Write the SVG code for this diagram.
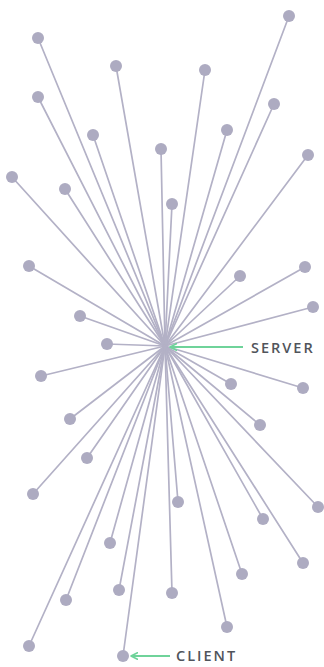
<svg xmlns="http://www.w3.org/2000/svg" width="324" height="667" viewBox="0 0 324 667">
  <style>
    .spoke { stroke: #b3b1c6; stroke-width: 1.7; stroke-linecap: round; fill: none; }
    .dot { fill: #adabc1; }
    .pointer { stroke: #6fd39a; stroke-width: 1.8; fill: none; }
    .label { font-family: "Open Sans", "Liberation Sans", sans-serif; font-size: 14.5px; font-weight: 600; fill: #50545b; letter-spacing: 2px; }
  </style>
  <defs>
    <marker id="head" viewBox="0 0 10 10" refX="9" refY="5" markerWidth="4.5" markerHeight="4.5" orient="auto" markerUnits="strokeWidth">
      <path d="M1,1 L9,5 L1,9" fill="none" stroke="#6fd39a" stroke-width="2" stroke-linecap="round" stroke-linejoin="round"/>
    </marker>
  </defs>
  <rect width="324" height="667" fill="#ffffff"/>

  <!-- spokes from the server hub to every client -->
  <g id="connectors">
    <line class="spoke" x1="165" y1="346" x2="289" y2="16"/>
    <line class="spoke" x1="165" y1="346" x2="38" y2="38"/>
    <line class="spoke" x1="165" y1="346" x2="116" y2="66"/>
    <line class="spoke" x1="165" y1="346" x2="205" y2="70"/>
    <line class="spoke" x1="165" y1="346" x2="38" y2="97"/>
    <line class="spoke" x1="165" y1="346" x2="274" y2="104"/>
    <line class="spoke" x1="165" y1="346" x2="93" y2="135"/>
    <line class="spoke" x1="165" y1="346" x2="227" y2="130"/>
    <line class="spoke" x1="165" y1="346" x2="161" y2="149"/>
    <line class="spoke" x1="165" y1="346" x2="308" y2="155"/>
    <line class="spoke" x1="165" y1="346" x2="12" y2="177"/>
    <line class="spoke" x1="165" y1="346" x2="65" y2="189"/>
    <line class="spoke" x1="165" y1="346" x2="172" y2="204"/>
    <line class="spoke" x1="165" y1="346" x2="29" y2="266"/>
    <line class="spoke" x1="165" y1="346" x2="240" y2="276"/>
    <line class="spoke" x1="165" y1="346" x2="305" y2="267"/>
    <line class="spoke" x1="165" y1="346" x2="80" y2="316"/>
    <line class="spoke" x1="165" y1="346" x2="313" y2="307"/>
    <line class="spoke" x1="165" y1="346" x2="107" y2="344"/>
    <line class="spoke" x1="165" y1="346" x2="41" y2="376"/>
    <line class="spoke" x1="165" y1="346" x2="231" y2="384"/>
    <line class="spoke" x1="165" y1="346" x2="303" y2="388"/>
    <line class="spoke" x1="165" y1="346" x2="70" y2="419"/>
    <line class="spoke" x1="165" y1="346" x2="260" y2="425"/>
    <line class="spoke" x1="165" y1="346" x2="87" y2="458"/>
    <line class="spoke" x1="165" y1="346" x2="33" y2="494"/>
    <line class="spoke" x1="165" y1="346" x2="178" y2="502"/>
    <line class="spoke" x1="165" y1="346" x2="318" y2="507"/>
    <line class="spoke" x1="165" y1="346" x2="263" y2="519"/>
    <line class="spoke" x1="165" y1="346" x2="110" y2="543"/>
    <line class="spoke" x1="165" y1="346" x2="303" y2="563"/>
    <line class="spoke" x1="165" y1="346" x2="242" y2="574"/>
    <line class="spoke" x1="165" y1="346" x2="66" y2="600"/>
    <line class="spoke" x1="165" y1="346" x2="119" y2="590"/>
    <line class="spoke" x1="165" y1="346" x2="172" y2="593"/>
    <line class="spoke" x1="165" y1="346" x2="227" y2="627"/>
    <line class="spoke" x1="165" y1="346" x2="29" y2="646"/>
    <line class="spoke" x1="165" y1="346" x2="123" y2="656"/>
  </g>

  <!-- client dots -->
  <g id="clients">
    <circle class="dot" cx="289" cy="16" r="6"/>
    <circle class="dot" cx="38" cy="38" r="6"/>
    <circle class="dot" cx="116" cy="66" r="6"/>
    <circle class="dot" cx="205" cy="70" r="6"/>
    <circle class="dot" cx="38" cy="97" r="6"/>
    <circle class="dot" cx="274" cy="104" r="6"/>
    <circle class="dot" cx="93" cy="135" r="6"/>
    <circle class="dot" cx="227" cy="130" r="6"/>
    <circle class="dot" cx="161" cy="149" r="6"/>
    <circle class="dot" cx="308" cy="155" r="6"/>
    <circle class="dot" cx="12" cy="177" r="6"/>
    <circle class="dot" cx="65" cy="189" r="6"/>
    <circle class="dot" cx="172" cy="204" r="6"/>
    <circle class="dot" cx="29" cy="266" r="6"/>
    <circle class="dot" cx="240" cy="276" r="6"/>
    <circle class="dot" cx="305" cy="267" r="6"/>
    <circle class="dot" cx="80" cy="316" r="6"/>
    <circle class="dot" cx="313" cy="307" r="6"/>
    <circle class="dot" cx="107" cy="344" r="6"/>
    <circle class="dot" cx="41" cy="376" r="6"/>
    <circle class="dot" cx="231" cy="384" r="6"/>
    <circle class="dot" cx="303" cy="388" r="6"/>
    <circle class="dot" cx="70" cy="419" r="6"/>
    <circle class="dot" cx="260" cy="425" r="6"/>
    <circle class="dot" cx="87" cy="458" r="6"/>
    <circle class="dot" cx="33" cy="494" r="6"/>
    <circle class="dot" cx="178" cy="502" r="6"/>
    <circle class="dot" cx="318" cy="507" r="6"/>
    <circle class="dot" cx="263" cy="519" r="6"/>
    <circle class="dot" cx="110" cy="543" r="6"/>
    <circle class="dot" cx="303" cy="563" r="6"/>
    <circle class="dot" cx="242" cy="574" r="6"/>
    <circle class="dot" cx="66" cy="600" r="6"/>
    <circle class="dot" cx="119" cy="590" r="6"/>
    <circle class="dot" cx="172" cy="593" r="6"/>
    <circle class="dot" cx="227" cy="627" r="6"/>
    <circle class="dot" cx="29" cy="646" r="6"/>
  </g>

  <!-- server label with pointer to the hub -->
  <g id="server">
    <line class="pointer" x1="243" y1="347" x2="170" y2="347" marker-end="url(#head)"/>
    <text class="label" x="251" y="353">SERVER</text>
  </g>

  <!-- client label with pointer to one dot -->
  <g id="client">
    <circle class="dot" cx="123" cy="656" r="6"/>
    <line class="pointer" x1="170" y1="656" x2="131" y2="656" marker-end="url(#head)"/>
    <text class="label" x="176" y="661">CLIENT</text>
  </g>
</svg>
